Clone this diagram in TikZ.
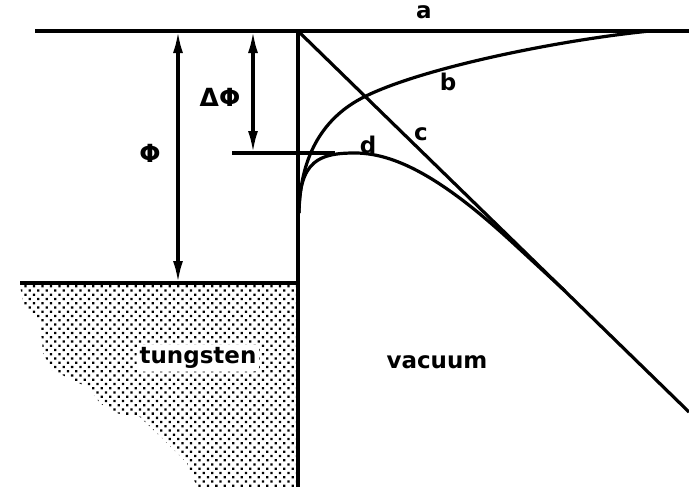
\documentclass[tikz,border=0pt]{standalone}
\usepackage{fontspec}
\setmainfont{DejaVu Sans}
\usetikzlibrary{
  arrows.meta,
  patterns.meta
}

\begin{document}
\begin{tikzpicture}[
    x=1pt,
    y=-1pt,
    line width=3.2pt,
    dim/.style={{Latex[length=22pt,width=10pt]}-{Latex[length=22pt,width=10pt]}},
    lbl/.style={font=\fontsize{23}{25}\selectfont\bfseries},
    sym/.style={font=\fontsize{25}{27}\selectfont\bfseries}
    ]
    \useasboundingbox (0,0) rectangle (689,490);
    
    % metal
    \fill[pattern={Dots[distance=6pt,radius=1.6pt,angle=45]}]
    (20,285) -- (23,303) -- (40,320) -- (43,353)
    -- (52,370) -- (87,387) -- (100,403) -- (115,413)
    -- (140,417) -- (167,443) -- (187,463) -- (197,487)
    -- (298,487) -- (298,285) -- cycle;
    
    \node[lbl,fill=white,rounded corners=6pt,inner sep=3pt] (tungsten)
    at (198,358) {tungsten};
    
    \node[lbl] (vacuum) at (437,362) {vacuum};
    
    % niveis
    \coordinate (vac0) at (35,31);
    \coordinate (vac1) at (689,31);
    \coordinate (surf) at (298,31);
    \coordinate (surfend) at (298,487);
    \coordinate (fermi0) at (20,283);
    \coordinate (fermi1) at (298,283);
    \coordinate (low0) at (232,153);
    \coordinate (low1) at (335,153);
    
    \draw (vac0) -- (vac1);
    \draw (fermi0) -- (fermi1);
    \draw (surf) -- (surfend);
    \draw (low0) -- (low1);
    
    % setas
    \coordinate (phitop) at (178,31);
    \coordinate (phibot) at (178,283);
    \draw[dim] (phitop) -- (phibot);
    \node[sym] (phi) at (150,153) {Φ};
    
    \coordinate (dphitop) at (253,31);
    \coordinate (dphibot) at (253,153);
    \draw[dim] (dphitop) -- (dphibot);
    \node[sym] (dphi) at (220,97) {ΔΦ};
    
    % curva c
    \coordinate (cend) at (689,412);
    \draw (surf) -- (cend);
    
    % curva b
    \coordinate (start) at (299,213);
    \draw (start)
    .. controls (300,160) and (320,120) .. (362,98)
    .. controls (420,68) and (560,40) .. (650,31)
    -- (vac1);
    
    % curva d
    \draw (start)
    .. controls (299,160) and (320,153) .. (355,153)
    .. controls (400,153) and (450,185) .. (513,243)
    -- (565,291);
    
    \node[lbl] (la) at (424,12) {a};
    \node[lbl] (lb) at (448,82) {b};
    \node[lbl] (lc) at (421,134) {c};
    \node[lbl] (ld) at (368,145) {d};
    
\end{tikzpicture}
\end{document}
